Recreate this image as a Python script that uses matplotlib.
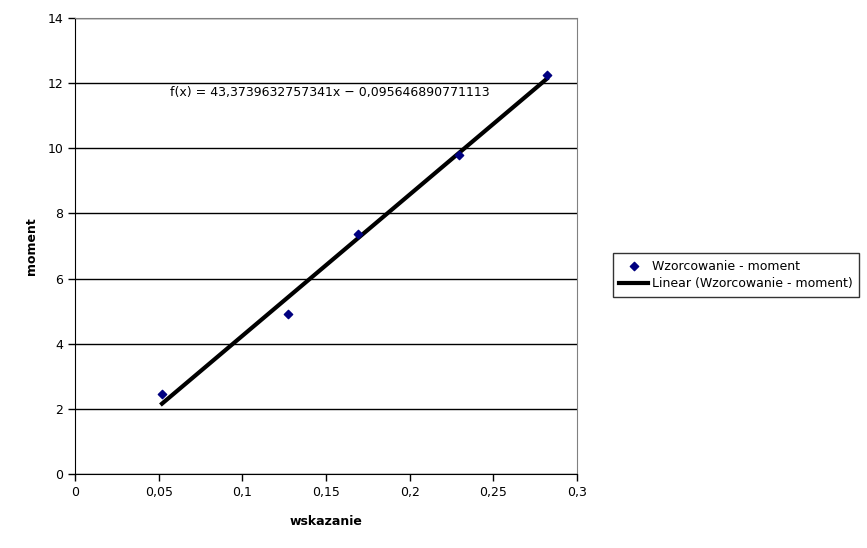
import numpy as np
import matplotlib.pyplot as plt

plt.rcParams['font.family'] = 'DejaVu Sans'

wskazanie = [0.052, 0.1273, 0.169, 0.2295, 0.282]
moment = [2.456, 4.91, 7.37, 9.79, 12.25]
slope = 43.3739632757341
intercept = -0.095646890771113

fig = plt.figure(figsize=(8.67, 5.48), dpi=100)
ax = fig.add_axes([75 / 867, 74 / 548, 502 / 867, 456 / 548])

ax.set_xlim(0, 0.3)
ax.set_ylim(0, 14)
ax.set_yticks(range(0, 15, 2))
ax.set_xticks(np.arange(0, 0.31, 0.05))
ax.set_xticklabels(['0', '0,05', '0,1', '0,15', '0,2', '0,25', '0,3'])
ax.yaxis.grid(True, color='black', linewidth=1)
ax.set_axisbelow(True)
ax.tick_params(labelsize=9, direction='out', length=5, width=1, color='black')
ax.spines['top'].set_color('#808080')
ax.spines['right'].set_color('#808080')

ax.scatter(wskazanie, moment, marker='D', s=18, color='#000080', zorder=3,
           label='Wzorcowanie - moment')
xs = np.array([min(wskazanie), max(wskazanie)])
ax.plot(xs, slope * xs + intercept, color='black', linewidth=3, zorder=2,
        label='Linear (Wzorcowanie - moment)')

ax.text(0.057, 11.6, 'f(x) = 43,3739632757341x − 0,095646890771113', fontsize=9)

ax.set_xlabel('wskazanie', fontsize=9, fontweight='bold', labelpad=12)
ax.set_ylabel('moment', fontsize=9, fontweight='bold', labelpad=7)

leg = fig.legend(loc='center left', bbox_to_anchor=(613 / 867, 1 - 275 / 548),
                 fontsize=9, frameon=True, fancybox=False, edgecolor='black',
                 handlelength=2.3, handletextpad=0.3, borderpad=0.5,
                 borderaxespad=0, labelspacing=0.4)
leg.get_frame().set_linewidth(1)

fig.savefig('out.png', dpi=100)
